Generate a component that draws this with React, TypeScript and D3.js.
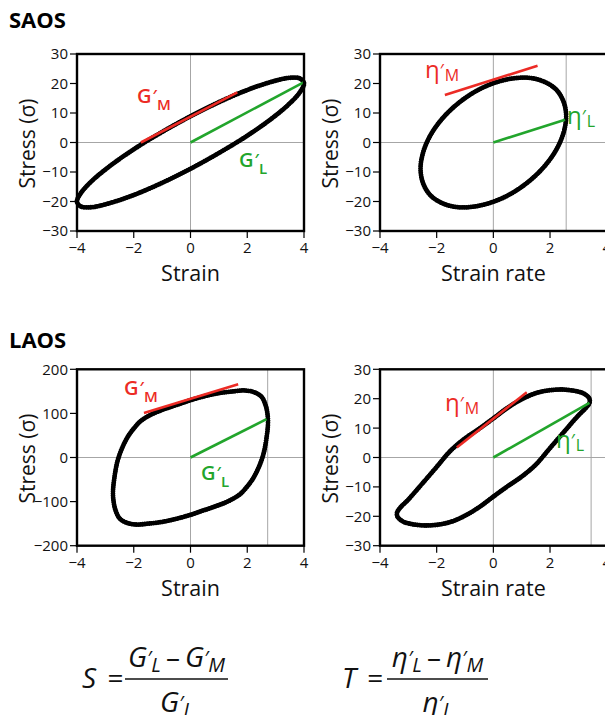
import React from "react";
import * as d3 from "d3";

type Pt = [number, number];

// ---------- data ----------
const xTicks = [-4, -2, 0, 2, 4];
const yTicksSaos = [-30, -20, -10, 0, 10, 20, 30];
const yTicksLaosStrain = [-200, -100, 0, 100, 200];
const yTicksLaosRate = [-30, -20, -10, 0, 10, 20, 30];

// SAOS: stress vs strain (closed loop)
const saosStrainLoop: Pt[] = [
  [0, 8.9], [1.03, 13.8], [2.0, 17.8], [2.83, 20.5], [3.46, 21.9], [3.86, 21.7],
  [4.0, 20.1], [3.86, 17.1], [3.46, 12.9], [2.83, 7.9], [2.0, 2.3], [1.03, -3.4],
  [0, -8.9], [-1.03, -13.8], [-2.0, -17.8], [-2.83, -20.5], [-3.46, -21.9], [-3.86, -21.7],
  [-4.0, -20.1], [-3.86, -17.1], [-3.46, -12.9], [-2.83, -7.9], [-2.0, -2.3], [-1.03, 3.4],
];
// SAOS: stress vs strain rate
const saosRateLoop: Pt[] = [
  [2.57, 8.9], [2.48, 13.8], [2.23, 17.8], [1.82, 20.5], [1.29, 21.9], [0.67, 21.7],
  [0, 20.1], [-0.67, 17.1], [-1.29, 12.9], [-1.82, 7.9], [-2.23, 2.3], [-2.48, -3.4],
  [-2.57, -8.9], [-2.48, -13.8], [-2.23, -17.8], [-1.82, -20.5], [-1.29, -21.9], [-0.67, -21.7],
  [0, -20.1], [0.67, -17.1], [1.29, -12.9], [1.82, -7.9], [2.23, -2.3], [2.48, 3.4],
];
// LAOS: stress vs strain
const laosStrainLoop: Pt[] = [
  [0, 130], [0.5, 139], [1.0, 146], [1.5, 150], [1.9, 152], [2.25, 148], [2.5, 138],
  [2.65, 118], [2.72, 95], [2.73, 75], [2.68, 45], [2.58, 10], [2.42, -20], [2.2, -48],
  [1.97, -68], [1.75, -83], [1.4, -97], [1.0, -108], [0.5, -119],
  [0, -130], [-0.5, -139], [-1.0, -146], [-1.5, -150], [-1.9, -152], [-2.25, -148], [-2.5, -138],
  [-2.65, -118], [-2.72, -95], [-2.73, -75], [-2.68, -45], [-2.58, -10], [-2.42, 20], [-2.2, 48],
  [-1.97, 68], [-1.75, 83], [-1.4, 97], [-1.0, 108], [-0.5, 119],
];
// LAOS: stress vs strain rate
const laosRateLoop: Pt[] = [
  [3.38, 20.2], [3.2, 21.7], [3.0, 22.4], [2.5, 23.1], [2.0, 22.9], [1.5, 21.9], [1.0, 19.8],
  [0.5, 16.9], [0, 13.3], [-0.5, 9.8], [-1.0, 6.5], [-1.5, 2.4], [-2.0, -3.2], [-2.5, -8.8],
  [-3.0, -14.3], [-3.28, -17.0], [-3.4, -18.8],
  [-3.38, -20.2], [-3.2, -21.7], [-3.0, -22.4], [-2.5, -23.1], [-2.0, -22.9], [-1.5, -21.9], [-1.0, -19.8],
  [-0.5, -16.9], [0, -13.3], [0.5, -9.8], [1.0, -6.5], [1.5, -2.4], [2.0, 3.2], [2.5, 8.8],
  [3.0, 14.3], [3.28, 17.0], [3.4, 18.8],
];

// tangent (M, red) and secant (L, green) lines
const saosStrainM: Pt[] = [[-1.75, 0], [1.65, 17]];
const saosStrainL: Pt[] = [[0, 0], [4, 20.5]];
const saosRateM: Pt[] = [[-1.71, 16.1], [1.56, 26.0]];
const saosRateL: Pt[] = [[0, 0], [2.53, 7.7]];
const laosStrainM: Pt[] = [[-1.64, 101], [1.68, 166]];
const laosStrainL: Pt[] = [[0, 0], [2.68, 87]];
const laosRateM: Pt[] = [[-1.29, 3.4], [1.18, 22.2]];
const laosRateL: Pt[] = [[0, 0], [3.39, 18.6]];

// maximum of the x quantity (grey vertical guide)
const maxX = { saosStrain: 4, saosRate: 2.57, laosStrain: 2.72, laosRate: 3.45 };

// ---------- styling ----------
const FONT = "'Open Sans', 'Noto Sans', 'DejaVu Sans', sans-serif";
const RED = "#ec2b25";
const GREEN = "#22a52c";

interface LabelCfg { sym: string; sub: string; x: number; y: number; color: string; kind: "G" | "eta"; }
interface PanelCfg {
  left: number; right: number; top: number; bottom: number;
  yDomain: [number, number]; yTicks: number[]; loop: Pt[]; xLabel: string;
  maxX: number; mLine: Pt[]; lLine: Pt[]; labels: LabelCfg[];
}

const fmt = (v: number) => (v < 0 ? "\u2212" + Math.abs(v) : String(v));

function Label({ l }: { l: LabelCfg }) {
  if (l.kind === "G") {
    return (
      <text x={l.x} y={l.y} fill={l.color} fontFamily={FONT} fontWeight={600} fontSize={20}>
        {l.sym}
        <tspan fontSize={17} dx={1} dy={-1}>{"\u2032"}</tspan>
        <tspan fontSize={15} dx={0} dy={8}>{l.sub}</tspan>
      </text>
    );
  }
  return (
    <text x={l.x} y={l.y} fill={l.color} fontFamily={FONT} fontWeight={400} fontSize={24}>
      {l.sym}
      <tspan fontSize={18} dx={0} dy={-1}>{"\u2032"}</tspan>
      <tspan fontSize={16} dx={1} dy={4}>{l.sub}</tspan>
    </text>
  );
}

function Panel({ c }: { c: PanelCfg }) {
  const x = d3.scaleLinear().domain([-4, 4]).range([c.left, c.right]);
  const y = d3.scaleLinear().domain(c.yDomain).range([c.bottom, c.top]);
  const loopPath = d3.line<Pt>().x((d) => x(d[0])).y((d) => y(d[1])).curve(d3.curveCatmullRomClosed.alpha(0.5))(c.loop) || "";
  const seg = d3.line<Pt>().x((d) => x(d[0])).y((d) => y(d[1]));
  const cy = (c.top + c.bottom) / 2;
  return (
    <g>
      {/* guides */}
      <line x1={x(0)} x2={x(0)} y1={c.top} y2={c.bottom} stroke="#a6a6a6" strokeWidth={1} />
      <line x1={c.left} x2={c.right} y1={y(0)} y2={y(0)} stroke="#a6a6a6" strokeWidth={1} />
      <line x1={x(c.maxX)} x2={x(c.maxX)} y1={c.top} y2={c.bottom} stroke="#a6a6a6" strokeWidth={1} />
      {/* loop */}
      <path d={loopPath} fill="none" stroke="#000" strokeWidth={3.8} strokeLinejoin="round" />
      <path d={loopPath} fill="none" stroke="#000" strokeWidth={4.8} strokeDasharray="0.01 2.2" strokeLinecap="round" />
      {/* lines */}
      <path d={seg(c.mLine) || ""} stroke={RED} strokeWidth={2.6} fill="none" />
      <path d={seg(c.lLine) || ""} stroke={GREEN} strokeWidth={2.6} fill="none" />
      {/* frame */}
      <rect x={c.left} y={c.top} width={c.right - c.left} height={c.bottom - c.top} fill="none" stroke="#000" strokeWidth={2.4} />
      {/* y ticks */}
      {c.yTicks.map((t) => (
        <g key={"y" + t}>
          <line x1={c.left - 7} x2={c.left} y1={y(t)} y2={y(t)} stroke="#000" strokeWidth={1.2} />
          <text x={c.left - 9} y={y(t)} dy="0.36em" textAnchor="end" fontFamily={FONT} fontSize={15} fill="#111">{fmt(t)}</text>
        </g>
      ))}
      {/* x ticks */}
      {xTicks.map((t) => (
        <g key={"x" + t}>
          <line x1={x(t)} x2={x(t)} y1={c.bottom} y2={c.bottom + 7} stroke="#000" strokeWidth={1.2} />
          <text x={x(t)} y={c.bottom + 22} textAnchor="middle" fontFamily={FONT} fontSize={15} fill="#111">{fmt(t)}</text>
        </g>
      ))}
      {/* axis titles */}
      <text x={x(0)} y={c.bottom + 50} textAnchor="middle" fontFamily={FONT} fontSize={21.5} fill="#111">{c.xLabel}</text>
      <text transform={`translate(${c.left - 42},${cy + 1}) rotate(-90)`} textAnchor="middle" fontFamily={FONT} fontSize={21} fill="#111">
        Stress (σ)
      </text>
      {c.labels.map((l, i) => <Label key={i} l={l} />)}
    </g>
  );
}

const panels: PanelCfg[] = [
  {
    left: 77, right: 304, top: 54, bottom: 231, yDomain: [-30, 30], yTicks: yTicksSaos,
    loop: saosStrainLoop, xLabel: "Strain", maxX: maxX.saosStrain, mLine: saosStrainM, lLine: saosStrainL,
    labels: [
      { sym: "G", sub: "M", x: 137, y: 103, color: RED, kind: "G" },
      { sym: "G", sub: "L", x: 239, y: 167, color: GREEN, kind: "G" },
    ],
  },
  {
    left: 380, right: 606.7, top: 54, bottom: 231, yDomain: [-30, 30], yTicks: yTicksSaos,
    loop: saosRateLoop, xLabel: "Strain rate", maxX: maxX.saosRate, mLine: saosRateM, lLine: saosRateL,
    labels: [
      { sym: "η", sub: "M", x: 425, y: 78, color: RED, kind: "eta" },
      { sym: "η", sub: "L", x: 567, y: 124, color: GREEN, kind: "eta" },
    ],
  },
  {
    left: 77, right: 304, top: 369.3, bottom: 545.7, yDomain: [-200, 200], yTicks: yTicksLaosStrain,
    loop: laosStrainLoop, xLabel: "Strain", maxX: maxX.laosStrain, mLine: laosStrainM, lLine: laosStrainL,
    labels: [
      { sym: "G", sub: "M", x: 124, y: 395, color: RED, kind: "G" },
      { sym: "G", sub: "L", x: 201, y: 480, color: GREEN, kind: "G" },
    ],
  },
  {
    left: 380, right: 606.7, top: 369.3, bottom: 545.7, yDomain: [-30, 30], yTicks: yTicksLaosRate,
    loop: laosRateLoop, xLabel: "Strain rate", maxX: maxX.laosRate, mLine: laosRateM, lLine: laosRateL,
    labels: [
      { sym: "η", sub: "M", x: 445, y: 411, color: RED, kind: "eta" },
      { sym: "η", sub: "L", x: 556, y: 448, color: GREEN, kind: "eta" },
    ],
  },
];

function Formula({ lhs, sym, lhsX, barX1, barX2 }: { lhs: string; sym: string; lhsX: number; barX1: number; barX2: number }) {
  const mid = (barX1 + barX2) / 2;
  return (
    <g fontFamily={FONT} fontStyle="italic" fill="#111">
      <text x={lhsX} y={688} fontSize={28}>
        {lhs}
        <tspan fontStyle="normal" dx={4}>=</tspan>
      </text>
      <text x={mid} y={667} fontSize={28} textAnchor="middle">
        {sym}<tspan fontSize={20} dy={-2}>{"\u2032"}</tspan>
        <tspan fontSize={20} dy={7}>L</tspan>
        <tspan fontStyle="normal" dy={-5} dx={5}>{"\u2013"}</tspan>
        <tspan dx={5}>{sym}</tspan><tspan fontSize={20} dy={-2}>{"\u2032"}</tspan>
        <tspan fontSize={20} dy={7}>M</tspan>
      </text>
      <line x1={barX1} x2={barX2} y1={679} y2={679} stroke="#111" strokeWidth={1.3} />
      <text x={mid} y={712} fontSize={28} textAnchor="middle">
        {sym}<tspan fontSize={20} dy={-2}>{"\u2032"}</tspan>
        <tspan fontSize={20} dy={7}>L</tspan>
      </text>
    </g>
  );
}

export default function App() {
  return (
    <svg width={605} height={715} viewBox="0 0 605 715" style={{ position: "absolute", left: 0, top: 0, background: "#fff" }}>
      <rect x={0} y={0} width={605} height={715} fill="#fff" />
      <text x={9} y={28} fontFamily={FONT} fontWeight={700} fontSize={22} fill="#000">SAOS</text>
      <text x={9} y={348} fontFamily={FONT} fontWeight={700} fontSize={22} fill="#000">LAOS</text>
      {panels.map((p, i) => <Panel key={i} c={p} />)}
      <Formula lhs="S " sym="G" lhsX={82} barX1={125} barX2={228} />
      <Formula lhs="T " sym="η" lhsX={342} barX1={387} barX2={488} />
    </svg>
  );
}
